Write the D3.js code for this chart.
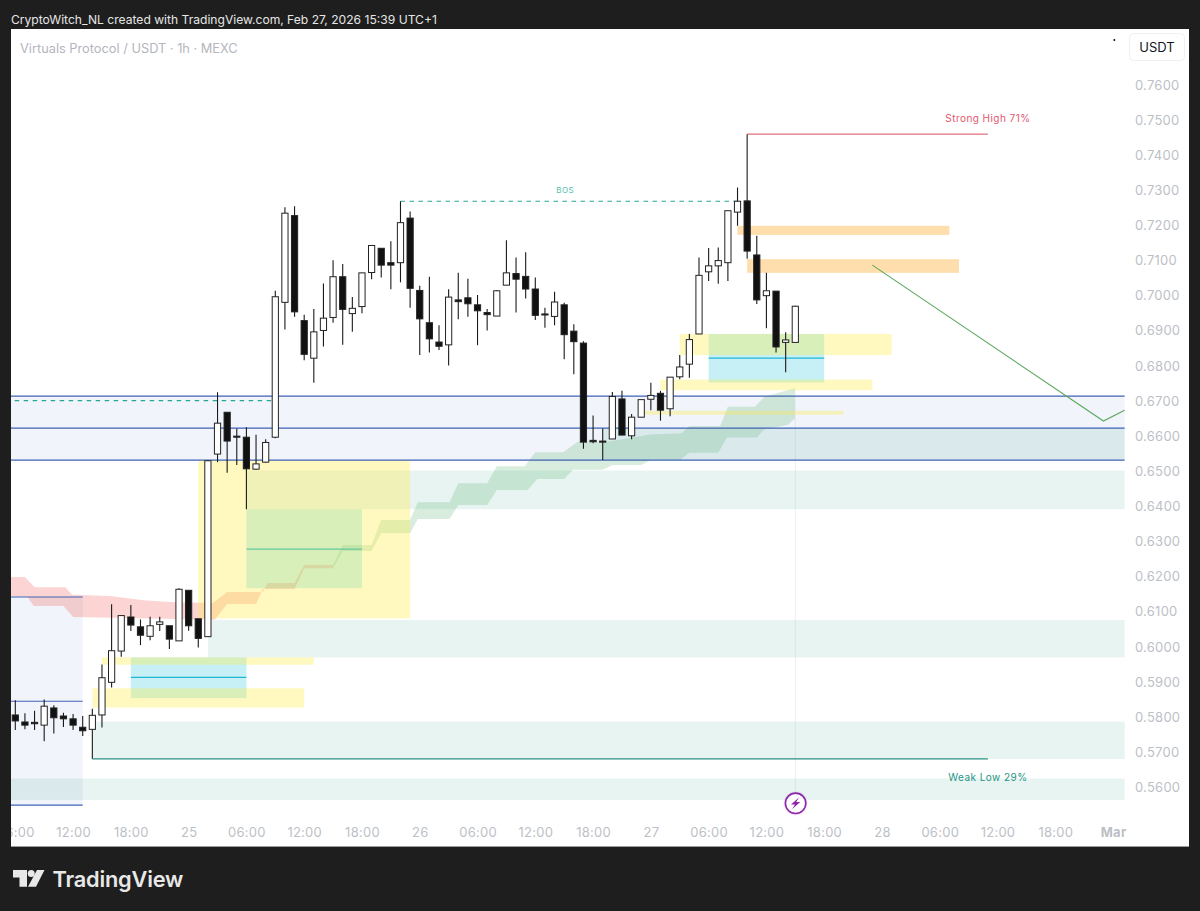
<!DOCTYPE html>
<html><head><meta charset="utf-8">
<script src="https://cdn.jsdelivr.net/npm/d3@7/dist/d3.min.js"></script>
<style>html,body{margin:0;padding:0;background:#1e1e1e;overflow:hidden}svg{display:block}text{font-family:Inter,"Noto Sans",sans-serif}</style>
</head><body><svg id="c" width="1200" height="911"></svg>
<script>
// Candles, one per hour from Feb 24 06:00 (prices in USDT)
const opens=[.5806,.5786,.5785,.5777,.5826,.5803,.5795,.5771,.5765,.5806,.5899,.5988,.6085,.6057,.6030,.6064,.6060,.6017,.6161,.6080,.6029,.6549,.6668,.6600,.6597,.6506,.6526,.6597,.6981,.7228,.6929,.6822,.6901,.6938,.7054,.6949,.6969,.7066,.7135,.7094,.7094,.7221,.7015,.6923,.6868,.6860,.6988,.6994,.6974,.6952,.6942,.7030,.7063,.7055,.7019,.6948,.6941,.6974,.6899,.6865,.6588,.6586,.6592,.6706,.6601,.6654,.6705,.6722,.6678,.6769,.6805,.6891,.7068,.7085,.7094,.7238,.7270,.7116,.7000,.7013,.6867,.6867];
const highs=[.5848,.5811,.5818,.5850,.5834,.5812,.5809,.5803,.5824,.5950,.6121,.6090,.6119,.6078,.6086,.6086,.6060,.6167,.6161,.6080,.6532,.6725,.6668,.6622,.6625,.6604,.6591,.7014,.7252,.7255,.6946,.6962,.7035,.7101,.7090,.6996,.7065,.7144,.7135,.7155,.7269,.7240,.7028,.7054,.6916,.7018,.7065,.7048,.7002,.6962,.7016,.7158,.7109,.7124,.7052,.6966,.7011,.6980,.6919,.6870,.6659,.6622,.6726,.6729,.6663,.6704,.6752,.6729,.6768,.6831,.6891,.7109,.7136,.7137,.7242,.7308,.7460,.7171,.7065,.7013,.6896,.6971];
const lows=[.5763,.5765,.5763,.5731,.5753,.5772,.5763,.5746,.5681,.5770,.5884,.5972,.6045,.6005,.6019,.6045,.5994,.6017,.6046,.5998,.6028,.6526,.6496,.6518,.6392,.6504,.6524,.6594,.6904,.6940,.6816,.6752,.6855,.6923,.6860,.6897,.6950,.7047,.7052,.7018,.7038,.6966,.6831,.6838,.6845,.6801,.6933,.6940,.6859,.6901,.6942,.7030,.6952,.6992,.6931,.6909,.6916,.6819,.6776,.6564,.6580,.6532,.6592,.6603,.6591,.6654,.6674,.6644,.6657,.6762,.6766,.6891,.7042,.7034,.7042,.7199,.7105,.6976,.6907,.6838,.6782,.6867];
const closes=[.5789,.5777,.5781,.5831,.5798,.5795,.5777,.5761,.5805,.5912,.5989,.6089,.6062,.6033,.6060,.6071,.6022,.6164,.6060,.6024,.6530,.6637,.6586,.6597,.6507,.6521,.6582,.6997,.7235,.6954,.6833,.6897,.6936,.7054,.6961,.6964,.7065,.7143,.7087,.7087,.7208,.7021,.6934,.6877,.6856,.6996,.6983,.6977,.6957,.6946,.7014,.7065,.7047,.7019,.6944,.6945,.6982,.6889,.6869,.6583,.6584,.6583,.6713,.6603,.6654,.6704,.6716,.6674,.6768,.6797,.6875,.7058,.7085,.7100,.7242,.7269,.7127,.6988,.7014,.6854,.6874,.6970];

// Price axis and time axis
const priceTicks=[.76,.75,.74,.73,.72,.71,.70,.69,.68,.67,.66,.65,.64,.63,.62,.61,.60,.59,.58,.57,.56];
const timeBars=[0,6,12,18,24,30,36,42,48,54,60,66,72,78,84,90,96,102,108,114];
const timeLabels=["06:00","12:00","18:00","25","06:00","12:00","18:00","26","06:00","12:00","18:00","27","06:00","12:00","18:00","28","06:00","12:00","18:00","Mar"];

// Zones: [start bar, end bar, upper price, lower price]
const lastBar=115.2, firstBar=-1;
const tealZones=[[24,lastBar,.6502,.6392],[20,lastBar,.6076,.5970],[8,lastBar,.5787,.5681],[firstBar,lastBar,.5625,.5564],[61,lastBar,.6623,.6532]];
const blueZones=[[firstBar,lastBar,.6714,.6532],[firstBar,7,.6142,.5549]];
const blueLines=[[firstBar,lastBar,.6714],[firstBar,lastBar,.6623],[firstBar,lastBar,.6532],[firstBar,7,.6142],[firstBar,7,.5845],[firstBar,7,.5549]];
const cyanZones=[[72,84,.6891,.6753],[24,36,.6392,.6167],[12,24,.5970,.5854]];
const cyanLines=[[72,84,.6822],[24,36,.6278],[12,24,.5913]];
const yellowZones=[[19,41,.6532,.6081],[9,31,.5970,.5949],[8,30,.5882,.5827],[69,91,.6891,.6831],[67,89,.6761,.6731],[65,86,.6672,.6661]];
const orangeZones=[[75,97,.7199,.7173],[76,98,.7104,.7065]];

// Stepped cloud edges
const redUpperBars=[-1,1,2,5.2,5.9,9.8,13.3,16,20.5,22,25.7,26.2,29,30,33];
const redUpperPrices=[.6199,.6199,.6170,.6170,.6148,.6145,.6133,.6128,.6125,.6156,.6156,.6182,.6182,.6233,.6233];
const redLowerBars=[-1,1.3,1.9,5,6,20.7,22,25,25.7,29,30,33];
const redLowerPrices=[.6145,.6142,.6116,.6116,.6085,.6077,.6122,.6122,.6165,.6165,.6224,.6224];
const greenUpperBars=[33,34,37,38,41,41.8,45.1,46,49,50,52.9,54,56.9,58.4,61.5,65.9,69.2,70,73.2,74,76.8,77.8,81];
const greenUpperPrices=[.6233,.6290,.6290,.6361,.6361,.6412,.6412,.6466,.6466,.6514,.6514,.6554,.6554,.6584,.6584,.6605,.6608,.6629,.6629,.6684,.6684,.6712,.6737];
const greenLowerBars=[33,34,37,38,41,41.8,45.1,46,49,50,53.2,54.2,57,57.9,61,62,65,66,69,70,73,73.9,77,77.8,80.2,81];
const greenLowerPrices=[.6224,.6273,.6273,.6324,.6324,.6364,.6364,.6404,.6404,.6447,.6447,.6478,.6478,.6504,.6504,.6518,.6518,.6532,.6532,.6553,.6553,.6596,.6596,.6620,.6632,.6652];

// Structure lines
const strongHigh=[76,101,.7460], weakLow=[8,101,.5681], bosLine=[40,75,.7269], oldBos=[firstBar,27,.6701];
const projectionBars=[89,113,115.2], projectionPrices=[.7087,.6643,.6674];

const headerText="CryptoWitch_NL created with TradingView.com, Feb 27, 2026 15:39 UTC+1";
const titleText="Virtuals Protocol / USDT · 1h · MEXC";

const svg=d3.select("#c");
const x=d3.scaleLinear().domain([0,81]).range([15.3,795.3]);
const y=d3.scaleLinear().domain([.56,.76]).range([787.3,85]);

svg.append("rect").attr("width",1200).attr("height",911).attr("fill","#1e1e1e");
svg.append("rect").attr("x",11).attr("y",29).attr("width",1178).attr("height",817.5).attr("fill","#fff");
svg.append("rect").attr("x",11).attr("y",846).attr("width",1178).attr("height",1).attr("fill","#9a9a9a");
svg.append("text").text(headerText).attr("x",11).attr("y",23.5).attr("fill","#e6e6e6").attr("font-size",12.1);
svg.append("text").text(titleText).attr("x",20).attr("y",52.5).attr("fill","#b4b6bd").attr("font-size",12.8);

const defs=svg.append("defs");
defs.append("clipPath").attr("id","plot").append("rect").attr("x",11).attr("y",29).attr("width",1114.5).attr("height",817);
defs.append("clipPath").attr("id","panel").append("rect").attr("x",11).attr("y",29).attr("width",1178).attr("height",817);
const plot=svg.append("g").attr("clip-path","url(#plot)");

function zones(data,fill){
  plot.append("g").selectAll("rect").data(data).join("rect")
    .attr("x",d=>x(d[0])).attr("width",d=>x(d[1])-x(d[0]))
    .attr("y",d=>y(d[2])).attr("height",d=>y(d[3])-y(d[2])).attr("fill",fill);
}
function hlines(data,stroke,w,dash){
  plot.append("g").selectAll("line").data(data).join("line")
    .attr("x1",d=>x(d[0])).attr("x2",d=>x(d[1])).attr("y1",d=>y(d[2])).attr("y2",d=>y(d[2]))
    .attr("stroke",stroke).attr("stroke-width",w).attr("stroke-dasharray",dash||null);
}
const poly=d3.line().x(d=>x(d[0])).y(d=>y(d[1]));
function cloud(ub,up,lb,lp,fill){
  const pts=ub.map((b,i)=>[b,up[i]]).concat(lb.map((b,i)=>[b,lp[i]]).reverse());
  plot.append("path").attr("d",poly(pts)+"Z").attr("fill",fill);
}

zones(blueZones,"rgba(63,98,181,.07)");
zones(tealZones,"rgba(20,150,120,.10)");
// faint vertical session marker
plot.append("line").attr("x1",x(81)).attr("x2",x(81)).attr("y1",y(.6652)).attr("y2",y(.5590)).attr("stroke","rgba(110,140,150,.13)");
cloud(redUpperBars,redUpperPrices,redLowerBars,redLowerPrices,"rgba(239,83,80,.25)");
cloud(greenUpperBars,greenUpperPrices,greenLowerBars,greenLowerPrices,"rgba(76,175,100,.22)");
zones(cyanZones,"rgba(0,188,212,.22)");
hlines(cyanLines,"#1fb8d2",1.3);
zones(orangeZones,"rgba(255,152,0,.32)");
zones(yellowZones,"rgba(255,235,59,.32)");
hlines(blueLines,"#3f62b5",1.2);
hlines([bosLine,oldBos],"#26a69a",1.2,"4.5 4.5");
hlines([strongHigh],"#e0707f",1.3);
hlines([weakLow],"#2a9085",1.2);
plot.append("path").attr("d",d3.line()(projectionBars.map((b,i)=>[x(b),y(projectionPrices[i])])))
  .attr("fill","none").attr("stroke","#5ba85e").attr("stroke-width",1.1);

// Candles
const idx=d3.range(opens.length);
const cg=plot.append("g");
cg.selectAll("line").data(idx).join("line")
  .attr("x1",i=>x(i)).attr("x2",i=>x(i)).attr("y1",i=>y(highs[i])).attr("y2",i=>y(lows[i]))
  .attr("stroke","#1a1a1a").attr("stroke-width",1.1);
cg.selectAll("rect").data(idx).join("rect")
  .attr("x",i=>x(i)-3.1).attr("width",6.2)
  .attr("y",i=>y(Math.max(opens[i],closes[i])))
  .attr("height",i=>Math.max(.8,Math.abs(y(opens[i])-y(closes[i]))))
  .attr("fill",i=>closes[i]>=opens[i]?"#fff":"#111")
  .attr("stroke","#222").attr("stroke-width",1);

// Structure labels
plot.append("text").text("BOS").attr("x",x(57.1)).attr("y",y(.7292)).attr("text-anchor","middle").attr("font-size",8).attr("fill","#55bdae").attr("letter-spacing",.4);
plot.append("text").text("Strong High 71%").attr("x",x(101)).attr("y",y(.7495)).attr("text-anchor","middle").attr("font-size",10).attr("fill","#e2586d").attr("letter-spacing",.45);
plot.append("text").text("Weak Low 29%").attr("x",x(101)).attr("y",y(.5619)).attr("text-anchor","middle").attr("font-size",10).attr("fill","#1e9485").attr("letter-spacing",.45);

// Lightning marker
const mk=svg.append("g").attr("transform",`translate(${x(81)+.3},803.3)`);
mk.append("circle").attr("r",12).attr("fill","rgba(190,70,210,.12)");
mk.append("circle").attr("r",10.2).attr("fill","#fff").attr("stroke","#8e24aa").attr("stroke-width",1.6);
mk.append("path").attr("d","M3.6,-6 L-4.6,1.2 L-0.6,1.2 L-3.6,6 L4.6,-1.2 L0.6,-1.2 Z").attr("fill","#8e24aa");

// Axes
const panel=svg.append("g").attr("clip-path","url(#panel)");
const ay=panel.append("g").attr("transform","translate(1135,0)")
  .call(d3.axisRight(y).tickValues(priceTicks).tickFormat(d3.format(".4f")).tickSize(0).tickPadding(0));
const ax=panel.append("g").attr("transform","translate(0,828)")
  .call(d3.axisBottom(x).tickValues(timeBars).tickFormat((d,i)=>timeLabels[i]).tickSize(0).tickPadding(0));
ay.select(".domain").remove(); ax.select(".domain").remove();
ay.selectAll("text").attr("fill","#bdbfc6").attr("font-size",13).attr("letter-spacing",.25).style("font-family","Inter");
ax.selectAll("text").attr("fill","#bdbfc6").attr("font-size",13).attr("letter-spacing",.25).style("font-family","Inter")
  .attr("font-weight",(d,i)=>timeLabels[i]==="Mar"?700:400);

// USDT button
svg.append("rect").attr("x",1129.5).attr("y",33.5).attr("width",55).attr("height",27).attr("rx",4).attr("fill","#fff").attr("stroke","#eef0f5");
svg.append("text").text("USDT").attr("x",1157).attr("y",52).attr("text-anchor","middle").attr("font-size",13).attr("fill","#131722");
svg.append("circle").attr("cx",1114.3).attr("cy",40).attr("r",1).attr("fill","#111");

// TradingView footer logo
svg.append("path").attr("d","M13,870H27V886.7H19.5V877.5H13ZM37,870H44.5L36,886.7H28Z").attr("fill","#e8e8e8");
svg.append("circle").attr("cx",31.2).attr("cy",873.6).attr("r",3.5).attr("fill","#e8e8e8");
svg.append("text").text("TradingView").attr("x",52.5).attr("y",886.5).attr("font-size",21.8).attr("font-weight",600).attr("fill","#e8e8e8").attr("letter-spacing",-.2);
</script></body></html>
